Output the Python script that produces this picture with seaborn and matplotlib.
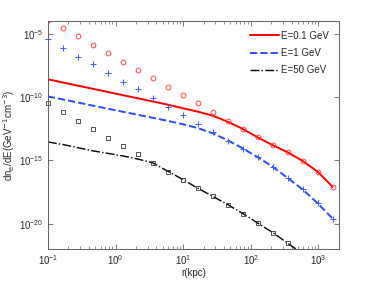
import numpy as np
import pandas as pd
import seaborn as sns
import matplotlib
matplotlib.use("Agg")
import matplotlib.pyplot as plt
from matplotlib.ticker import LogLocator, NullFormatter

# radius grid, kpc
r = [0.1, 0.167, 0.277, 0.462, 0.77, 1.28, 2.14, 3.55, 5.9, 9.8,
     16.4, 27.5, 45.7, 76, 126, 210, 352, 585, 973, 1620]

# log10(dn/dE)
red_line = [-8.6, -8.85, -9.1, -9.35, -9.6, -9.85, -10.1, -10.35, -10.6, -10.88,
            -11.15, -11.48, -11.95, -12.52, -13.18, -13.8, -14.37, -15.05, -15.9, -17.1]
blue_line = [-9.95, -10.19, -10.43, -10.68, -10.92, -11.16, -11.4, -11.64, -11.88, -12.14,
             -12.45, -12.87, -13.42, -14.05, -14.75, -15.5, -16.4, -17.3, -18.4, -19.6]
black_line = [-13.55, -13.75, -14.0, -14.25, -14.45, -14.65, -14.9, -15.2, -15.85, -16.5,
              -17.2, -17.85, -18.5, -19.2, -19.95, -20.7, -21.55, -22.4]

red_pts = [-3.9, -4.53, -5.16, -5.86, -6.5, -7.2, -7.85, -8.5, -9.18, -9.87,
           -10.5, -11.2, -11.88, -12.5, -13.15, -13.8, -14.37, -15.05, -15.9, -17.1]
blue_pts = [-5.4, -6.1, -6.8, -7.4, -8.08, -8.78, -9.4, -10.1, -10.8, -11.45,
            -12.12, -12.8, -13.45, -14.1, -14.75, -15.5, -16.4, -17.25, -18.35, -19.6]
black_pts = [-10.5, -11.2, -11.88, -12.55, -13.2, -13.85, -14.5, -15.2, -15.9, -16.55,
             -17.22, -17.85, -18.5, -19.2, -19.95, -20.7, -21.55]

labels = ["E=0.1 GeV", "E=1 GeV", "E=50 GeV"]

sns.set_theme(style="ticks")
plt.rcParams['font.family'] = ['Liberation Sans', 'DejaVu Sans']
plt.rcParams['font.size'] = 7
plt.rcParams['axes.linewidth'] = 0.7

fig = plt.figure(figsize=(3.74, 2.81), dpi=100)
ax = fig.add_axes([0.128, 0.114, 0.778, 0.811])

def pw(v):
    return [10.0 ** x for x in v]

# lines
sns.lineplot(x=r, y=pw(red_line), ax=ax, color='#ff0000', lw=1.4, label=labels[0])
sns.lineplot(x=r, y=pw(blue_line), ax=ax, color='#2a4cff', lw=1.4, ls='--', label=labels[1])
sns.lineplot(x=r[:len(black_line)], y=pw(black_line), ax=ax, color='black', lw=1.0,
             ls='-.', label=labels[2])

# markers
sns.lineplot(x=r, y=pw(red_pts), ax=ax, ls='none', marker='o', ms=3.5,
             mfc='none', mec='#ff3030', mew=0.6)
sns.lineplot(x=r, y=pw(blue_pts), ax=ax, ls='none', marker='+', ms=4.5,
             mfc='none', mec='#3a5cff', mew=0.7, clip_on=False)
sns.lineplot(x=r[:len(black_pts)], y=pw(black_pts), ax=ax, ls='none', marker='s', ms=3,
             mfc='none', mec='#333333', mew=0.6, clip_on=False)

ax.set_xscale('log')
ax.set_yscale('log')
ax.set_xlim(0.1, 2000)
ax.set_ylim(1e-22, 1e-4)

ax.set_yticks([1e-20, 1e-15, 1e-10, 1e-5])
ax.yaxis.set_minor_locator(plt.NullLocator())
ax.xaxis.set_major_locator(LogLocator(base=10, numticks=10))
ax.xaxis.set_minor_locator(LogLocator(base=10, subs=np.arange(2, 10), numticks=20))
ax.xaxis.set_minor_formatter(NullFormatter())

for s in ax.spines.values():
    s.set_color('#606060')
    s.set_visible(True)
ax.tick_params(which='both', direction='in', top=True, right=True,
               color='#606060', labelsize=7, pad=3)
ax.tick_params(which='major', length=3.5, width=0.6)
ax.tick_params(which='minor', length=2, width=0.5)

ax.set_xlabel("r(kpc)", fontsize=7, labelpad=1)
ax.set_ylabel(r"dn$_{\rm e}$/dE(GeV$^{-1}$cm$^{-3}$)", fontsize=7, labelpad=2)

ax.legend(loc='upper right', frameon=False, fontsize=7, handlelength=3.0,
          handletextpad=0.2, labelspacing=0.75, borderaxespad=0.6)

fig.savefig("out.png", dpi=100)
